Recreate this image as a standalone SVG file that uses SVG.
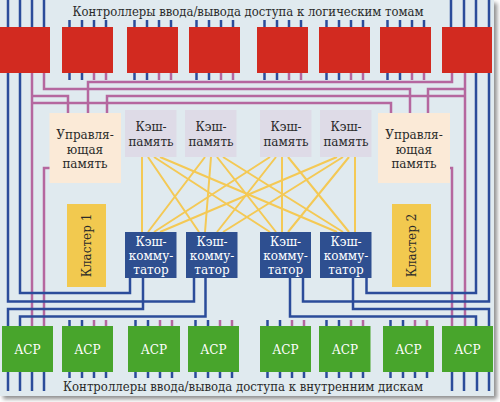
<svg xmlns="http://www.w3.org/2000/svg" width="500" height="402" viewBox="0 0 500 402">
<defs>
<filter id="sh" x="-5%" y="-5%" width="115%" height="115%">
<feGaussianBlur in="SourceAlpha" stdDeviation="2"/>
<feOffset dx="3" dy="3" result="b"/>
<feComponentTransfer><feFuncA type="linear" slope="0.45"/></feComponentTransfer>
<feMerge><feMergeNode/><feMergeNode in="SourceGraphic"/></feMerge>
</filter>
<style>
.red{fill:#d22a20}
.acp{fill:#48a52c}
.sw{fill:#2e4f90}
.cm{fill:#dedbe7}
.mm{fill:#fbead7}
.cl{fill:#f2c94f}
.bl{fill:none;stroke:#2b4c9a;stroke-width:2.5}
.pk{fill:none;stroke:#b5679f;stroke-width:2.5}
.yl{fill:none;stroke:#f4c955;stroke-width:2}
text{font-family:"DejaVu Serif","Liberation Serif",serif;text-anchor:middle}
.dk{fill:#2a2a2a;font-size:12px}
.wt{fill:#ffffff;font-size:12px}
.ttl{fill:#2a2a2a;font-size:13px}
</style>
</defs>
<rect width="500" height="402" fill="#ffffff"/>
<rect x="0" y="0" width="494" height="396" fill="#e0eaef" filter="url(#sh)"/>

<g id="connectors">
<g class="yl">
<path d="M142,157L142,232M148,157L199,232M154,157L270,232M160,157L337,232"/>
<path d="M205,157L148,232M211,157L205,232M217,157L276,232M223,157L343,232"/>
<path d="M270,157L154,232M276,157L217,232M282,157L282,232M288,157L349,232"/>
<path d="M337,157L160,232M343,157L223,232M349,157L288,232M355,157L355,232"/>
</g>
<g class="pk">
<path d="M32,73V326"/>
<path d="M32,96H68V113"/>
<path d="M32,103H391V113"/>
<path d="M44,73V89H410V113"/>
<path d="M88,113V82H452V73"/>
<path d="M107,113V96H465"/>
<path d="M465,73V326"/>
<path d="M428,113V89H465"/>
<path d="M50,168H44V326"/>
<path d="M450,168H452V326"/>
</g>
<g class="bl">
<path d="M20,73V293H130V278"/>
<path d="M8,73V301.5H194V278"/>
<path d="M8,326V309H143V278"/>
<path d="M20,326V316.5H205.5V278"/>
<path d="M476,73V293H366.5V278"/>
<path d="M489,73V301.5H303V278"/>
<path d="M489,326V309H353V278"/>
<path d="M476,326V316.5H290V278"/>
<path d="M8,0V27M20,0V27M32,0V27M44,0V27"/>
<path d="M451,0V27M464,0V27M476,0V27M489,0V27"/>
<path d="M8,372V391M20,372V391M32,372V391M44,372V391"/>
<path d="M452,372V391M464,372V391M477,372V391M489,372V391"/>
</g>
<!-- port stubs on red blocks 2-7 -->
<g class="bl">
<path d="M69.5,20v7M82,20v7M94,20v7M106,20v7M69.5,73v7M82,73v7"/>
<path d="M134.5,20v7M147,20v7M159,20v7M171,20v7M134.5,73v7M147,73v7"/>
<path d="M196.5,20v7M209,20v7M221,20v7M233,20v7M196.5,73v7M209,73v7"/>
<path d="M264.5,20v7M277,20v7M289,20v7M301,20v7M264.5,73v7M277,73v7"/>
<path d="M326.5,20v7M339,20v7M351,20v7M363,20v7M326.5,73v7M339,73v7"/>
<path d="M387.5,20v7M400,20v7M412,20v7M424,20v7M387.5,73v7M400,73v7"/>
</g>
<g class="pk">
<path d="M94,73v7M106,73v7M159,73v7M171,73v7M221,73v7M233,73v7M289,73v7M301,73v7M351,73v7M363,73v7M412,73v7M424,73v7"/>
</g>
<!-- port stubs on ACP 2-7 -->
<g class="bl">
<path d="M69.5,320v6M82,320v6M69.5,372v6M82,372v6M94,372v6M106,372v6"/>
<path d="M135.5,320v6M148,320v6M135.5,372v6M148,372v6M160,372v6M172,372v6"/>
<path d="M195.5,320v6M208,320v6M195.5,372v6M208,372v6M220,372v6M232,372v6"/>
<path d="M267.5,320v6M280,320v6M267.5,372v6M280,372v6M292,372v6M304,372v6"/>
<path d="M326.5,320v6M339,320v6M326.5,372v6M339,372v6M351,372v6M363,372v6"/>
<path d="M390.5,320v6M403,320v6M390.5,372v6M403,372v6M415,372v6M427,372v6"/>
</g>
<g class="pk">
<path d="M94,320v6M106,320v6M160,320v6M172,320v6M220,320v6M232,320v6M292,320v6M304,320v6M351,320v6M363,320v6M415,320v6M427,320v6"/>
</g>
</g>

<text class="ttl" x="248" y="16" textLength="351" lengthAdjust="spacingAndGlyphs">Контроллеры ввода/вывода доступа к логическим томам</text>
<text class="ttl" x="243" y="391" textLength="360" lengthAdjust="spacingAndGlyphs">Контроллеры ввода/вывода доступа к внутренним дискам</text>

<g id="ctl1"><rect class="red" x="0" y="27" width="50" height="46"/></g>
<g id="ctl2"><rect class="red" x="62" y="27" width="51" height="46"/></g>
<g id="ctl3"><rect class="red" x="127" y="27" width="51" height="46"/></g>
<g id="ctl4"><rect class="red" x="189" y="27" width="51" height="46"/></g>
<g id="ctl5"><rect class="red" x="257" y="27" width="51" height="46"/></g>
<g id="ctl6"><rect class="red" x="319" y="27" width="51" height="46"/></g>
<g id="ctl7"><rect class="red" x="380" y="27" width="51" height="46"/></g>
<g id="ctl8"><rect class="red" x="442" y="27" width="50" height="46"/></g>

<g id="mgmt1"><rect class="mm" x="49.5" y="113" width="71.5" height="70"/>
<text class="dk" x="85" y="139">Управля-</text><text class="dk" x="85" y="154">ющая</text><text class="dk" x="85" y="168">память</text></g>
<g id="mgmt2"><rect class="mm" x="378" y="113" width="72" height="70"/>
<text class="dk" x="414" y="139">Управля-</text><text class="dk" x="414" y="154">ющая</text><text class="dk" x="414" y="168">память</text></g>

<g id="cache1"><rect class="cm" x="125" y="110" width="51.5" height="47"/>
<text class="dk" x="151" y="131">Кэш-</text><text class="dk" x="151" y="146">память</text></g>
<g id="cache2"><rect class="cm" x="185" y="110" width="51.5" height="47"/>
<text class="dk" x="211" y="131">Кэш-</text><text class="dk" x="211" y="146">память</text></g>
<g id="cache3"><rect class="cm" x="260" y="110" width="51.5" height="47"/>
<text class="dk" x="286" y="131">Кэш-</text><text class="dk" x="286" y="146">память</text></g>
<g id="cache4"><rect class="cm" x="320" y="110" width="51.5" height="47"/>
<text class="dk" x="346" y="131">Кэш-</text><text class="dk" x="346" y="146">память</text></g>

<g id="cluster1"><rect class="cl" x="67" y="204" width="39" height="83"/>
<text class="dk" x="0" y="0" transform="translate(90.5,245.5) rotate(-90)">Кластер 1</text></g>
<g id="cluster2"><rect class="cl" x="392" y="204" width="39" height="83"/>
<text class="dk" x="0" y="0" transform="translate(415.5,245.5) rotate(-90)">Кластер 2</text></g>

<g id="switch1"><rect class="sw" x="125" y="232" width="51.5" height="46"/>
<text class="wt" x="151" y="246">Кэш-</text><text class="wt" x="151" y="260">комму-</text><text class="wt" x="151" y="274">татор</text></g>
<g id="switch2"><rect class="sw" x="186" y="232" width="51.5" height="46"/>
<text class="wt" x="212" y="246">Кэш-</text><text class="wt" x="212" y="260">комму-</text><text class="wt" x="212" y="274">татор</text></g>
<g id="switch3"><rect class="sw" x="260" y="232" width="51" height="46"/>
<text class="wt" x="285.5" y="246">Кэш-</text><text class="wt" x="285.5" y="260">комму-</text><text class="wt" x="285.5" y="274">татор</text></g>
<g id="switch4"><rect class="sw" x="320" y="232" width="51.5" height="46"/>
<text class="wt" x="346" y="246">Кэш-</text><text class="wt" x="346" y="260">комму-</text><text class="wt" x="346" y="274">татор</text></g>

<g id="acp1"><rect class="acp" x="2" y="326" width="51" height="46"/><text class="wt" x="27.5" y="354" font-size="13">ACP</text></g>
<g id="acp2"><rect class="acp" x="62" y="326" width="51" height="46"/><text class="wt" x="87.5" y="354">ACP</text></g>
<g id="acp3"><rect class="acp" x="128" y="326" width="52" height="46"/><text class="wt" x="154" y="354">ACP</text></g>
<g id="acp4"><rect class="acp" x="188" y="326" width="51" height="46"/><text class="wt" x="213.5" y="354">ACP</text></g>
<g id="acp5"><rect class="acp" x="260" y="326" width="51" height="46"/><text class="wt" x="285.5" y="354">ACP</text></g>
<g id="acp6"><rect class="acp" x="319" y="326" width="51.5" height="46"/><text class="wt" x="345" y="354">ACP</text></g>
<g id="acp7"><rect class="acp" x="383" y="326" width="51" height="46"/><text class="wt" x="408.5" y="354">ACP</text></g>
<g id="acp8"><rect class="acp" x="442" y="326" width="51" height="46"/><text class="wt" x="467.5" y="354">ACP</text></g>
</svg>
